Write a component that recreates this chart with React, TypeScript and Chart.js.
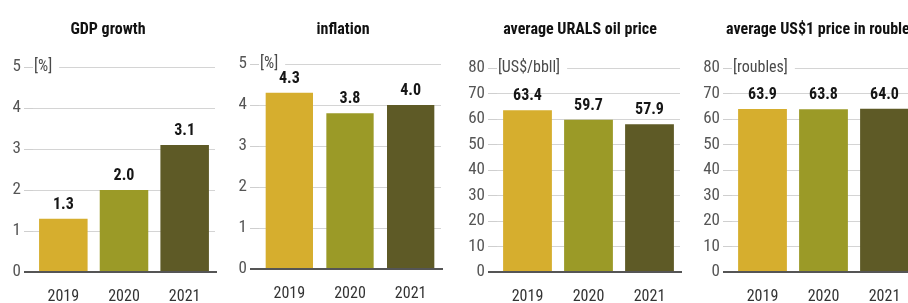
import React, { useEffect, useRef } from "react";
import { Chart, registerables } from "chart.js";

Chart.register(...registerables);

// ---- data ----
const years = ["2019", "2020", "2021"];
const gdpGrowth = [1.3, 2.0, 3.1];
const inflation = [4.3, 3.8, 4.0];
const uralsPrice = [63.4, 59.7, 57.9];
const usdInRoubles = [63.9, 63.8, 64.0];
const titles = ["GDP growth", "inflation", "average URALS oil price", "average US$1 price in roubles"];
const units = ["[%]", "[%]", "[US$/bbll]", "[roubles]"];
const yMax = [5, 5, 80, 80];
const yStep = [1, 1, 10, 10];
const seriesList = [gdpGrowth, inflation, uralsPrice, usdInRoubles];
const barColors = ["#D6AE2E", "#9B9A27", "#5E5A26"];

// ---- layout (not data) ----
const FONT = "'Roboto Condensed', 'DejaVu Sans Condensed', sans-serif";
const H = 303;
const panels = [
  { left: 0, width: 228, axisW: 33, top: 67, bottom: 272, padRight: 13, titleX: 108, titleAlign: "center", barPct: 0.8 },
  { left: 228, width: 227, axisW: 31, top: 64, bottom: 269, padRight: 14, titleX: 115, titleAlign: "center", barPct: 0.78 },
  { left: 455, width: 228, axisW: 42, top: 68, bottom: 272, padRight: 3, titleX: 125, titleAlign: "center", barPct: 0.8 },
  { left: 683, width: 262, axisW: 49, top: 68, bottom: 272, padRight: 30, titleX: 43, titleAlign: "left", barPct: 0.8 },
];

const decorPlugin = {
  id: "decor",
  beforeDatasetsDraw(chart: any, _args: any, opts: any) {
    const { ctx, chartArea } = chart;
    const y = chart.scales.y.getPixelForValue(opts.max);
    ctx.save();
    ctx.font = `16px ${FONT}`;
    const w = ctx.measureText(opts.unit).width;
    ctx.fillStyle = "#ffffff";
    ctx.fillRect(chartArea.left, y - 3, w + 8, 6);
    ctx.fillStyle = "#4a4a4a";
    ctx.textBaseline = "middle";
    ctx.textAlign = "left";
    ctx.fillText(opts.unit, chartArea.left + 1, y);
    ctx.restore();
  },
  afterDatasetsDraw(chart: any, _args: any, opts: any) {
    const { ctx, chartArea } = chart;
    ctx.save();
    // baseline
    const y0 = chart.scales.y.getPixelForValue(0);
    ctx.strokeStyle = "#555555";
    ctx.lineWidth = 2;
    ctx.beginPath();
    ctx.moveTo(chartArea.left - 9, y0);
    ctx.lineTo(chartArea.right + 2, y0);
    ctx.stroke();
    // value labels
    const meta = chart.getDatasetMeta(0);
    const values = chart.data.datasets[0].data;
    ctx.font = `bold 16px ${FONT}`;
    ctx.fillStyle = "#161616";
    ctx.textAlign = "center";
    ctx.textBaseline = "alphabetic";
    meta.data.forEach((bar: any, i: number) => {
      ctx.fillText(Number(values[i]).toFixed(1), bar.x, bar.y - 10);
    });
    // title
    ctx.font = `bold 16px ${FONT}`;
    ctx.fillStyle = "#111111";
    ctx.textAlign = opts.titleAlign;
    ctx.fillText(opts.title, opts.titleX, 34);
    ctx.restore();
  },
};

function Panel({ idx }: { idx: number }) {
  const ref = useRef<HTMLCanvasElement | null>(null);
  const p = panels[idx];
  useEffect(() => {
    if (!ref.current) return;
    const isZero = (c: any) => c.tick && c.tick.value === 0;
    const chart = new Chart(ref.current, {
      type: "bar",
      data: {
        labels: years,
        datasets: [
          {
            data: seriesList[idx],
            backgroundColor: barColors,
            borderWidth: 0,
            barPercentage: p.barPct,
            categoryPercentage: 1,
          },
        ],
      },
      options: {
        animation: false,
        responsive: false,
        devicePixelRatio: 1,
        layout: { padding: { top: p.top, right: p.padRight, left: 0, bottom: 0 } },
        plugins: {
          legend: { display: false },
          tooltip: { enabled: false },
          title: { display: false },
          decor: {
            unit: units[idx],
            max: yMax[idx],
            title: titles[idx],
            titleX: p.titleX,
            titleAlign: p.titleAlign,
          },
        } as any,
        scales: {
          x: {
            grid: { display: false, drawTicks: false },
            border: { display: false },
            ticks: { color: "#333333", font: { family: FONT, size: 16 }, padding: 15 },
            afterFit: (s: any) => {
              s.height = H - p.bottom;
            },
          },
          y: {
            min: 0,
            max: yMax[idx],
            border: { display: false },
            grid: {
              color: (c: any) => (isZero(c) ? "#555555" : "#d4d4d4"),
              lineWidth: (c: any) => (isZero(c) ? 2 : 1),
              tickColor: (c: any) => (isZero(c) ? "#555555" : "#cfcfcf"),
              tickWidth: (c: any) => (isZero(c) ? 2 : 1),
              tickLength: 9,
              drawTicks: true,
            },
            ticks: {
              stepSize: yStep[idx],
              color: "#555555",
              font: { family: FONT, size: 17 },
              padding: 3,
            },
            afterFit: (s: any) => {
              s.width = p.axisW;
            },
          },
        },
      },
      plugins: [decorPlugin],
    });
    return () => chart.destroy();
  }, [idx]);
  return (
    <canvas
      ref={ref}
      width={p.width}
      height={H}
      style={{ position: "absolute", left: p.left, top: 0, width: p.width, height: H, display: "block" }}
    />
  );
}

export default function App() {
  return (
    <div
      style={{
        position: "fixed",
        left: 0,
        top: 0,
        width: 908,
        height: H,
        overflow: "hidden",
        background: "#ffffff",
      }}
    >
      {panels.map((_, i) => (
        <Panel key={i} idx={i} />
      ))}
    </div>
  );
}
